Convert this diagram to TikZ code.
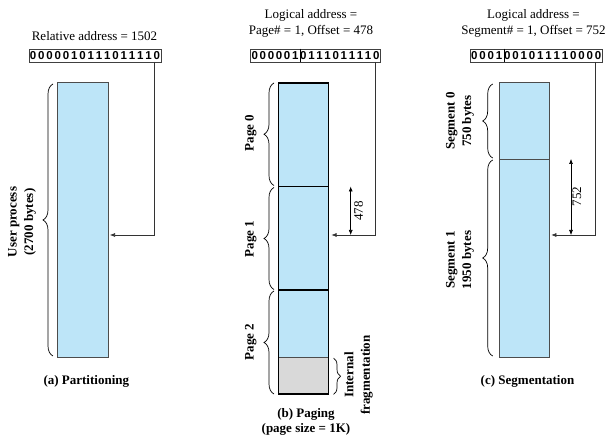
\documentclass[tikz,border=0pt]{standalone}
\usepackage{fontspec}
\setmainfont{Liberation Serif}
\newfontfamily\bitfont{Liberation Sans}
\usetikzlibrary{arrows.meta,decorations.pathreplacing}
\definecolor{membl}{RGB}{189,229,248}
\definecolor{fraggr}{RGB}{217,217,217}

\begin{document}
\begin{tikzpicture}[x=1pt,y=-1pt,
    font=\fontsize{13}{16}\selectfont,
    bit/.style={font=\fontsize{11.5}{11.5}\bitfont\bfseries, inner sep=0pt},
    addr/.style={draw=black!75, line width=0.6pt, minimum height=13pt, inner sep=0pt},
    mem/.style={draw=black!70, line width=0.6pt, fill=membl, anchor=north west, inner sep=0pt, outer sep=0pt},
    page/.style={mem, draw=black, line width=1.9pt, minimum width=50pt, minimum height=103.7pt},
    brc/.style={decorate, decoration={brace, amplitude=10pt}, line width=0.7pt},
    smallbrc/.style={decorate, decoration={brace, amplitude=7pt}, line width=0.7pt},
    ptr/.style={-{Latex[length=5pt,width=4pt]}, line width=0.6pt, draw=black!80},
    dim/.style={{Latex[length=5pt,width=4pt]}-{Latex[length=5pt,width=4pt]}, line width=0.6pt},
    side/.style={align=center, rotate=90, font=\fontsize{13}{16.5}\selectfont\bfseries},
    caption/.style={align=center, font=\fontsize{13}{14.5}\selectfont\bfseries},
]
\useasboundingbox (0,0) rectangle (611,438);

%% (a) Partitioning
\node (titleA) at (94.5,36) {Relative address = 1502};
\node [addr, minimum width=132pt] (addrA) at (95,55.5) {};
\foreach \Bit [count=\i] in {0,0,0,0,0,1,0,1,1,1,0,1,1,1,1,0}{
    \node [bit] (bitA\i) at (29+8.25*\i-4.125,55.5) {\Bit};
}
\node [mem, minimum width=51pt, minimum height=274.6pt] (procA) at (57.3,82.7) {};
\draw [brc] (53,356) -- (53,84); % process brace
\node [side] (sizeA) at (22,222) {User process\\(2700 bytes)};
\coordinate (tapA) at (154,62);
\coordinate (hitA) at (110,235);
\draw [ptr] (tapA) |- (hitA);
\node [caption] (capA) at (86.3,381) {(a) Partitioning};

%% (b) Paging
\node [align=center] (titleB) at (311,23) {Logical address =\\Page\# = 1, Offset = 478};
\node [addr, minimum width=129.6pt] (addrB) at (315.5,55.5) {};
\foreach \Bit [count=\i] in {0,0,0,0,0,1,0,1,1,1,0,1,1,1,1,0}{
    \node [bit] (bitB\i) at (250.7+8.1*\i-4.05,55.5) {\Bit};
}
\draw [line width=0.6pt] ([xshift=49.6pt]addrB.north west) -- ([xshift=49.6pt]addrB.south west); % page | offset
\node [page] (page0) at (278.5,82.8) {};
\node [page] (page1) at (page0.south west) {};
\node [page] (page2) at (page1.south west) {};
\node [mem, anchor=south west, fill=fraggr, minimum width=50pt, minimum height=36.2pt] (frag) at (page2.south west) {};
\draw [line width=1.9pt] (page2.north west) rectangle (page2.south east); % redraw frame
\draw [brc] (274,185.5) -- (274,83);
\draw [brc] (274,289.5) -- (274,187.5);
\draw [brc] (274,394) -- (274,291);
\node [side] (lblP0) at (250.7,133) {Page 0};
\node [side] (lblP1) at (250.7,239) {Page 1};
\node [side] (lblP2) at (250.7,342) {Page 2};
\draw [smallbrc] (333.5,358) -- (333.5,394.5); % fragmentation brace
\node [side] (lblFrag) at (358.5,375) {Internal\\fragmentation};
\coordinate (tapB) at (375,62);
\coordinate (hitB) at (331.5,235);
\draw [ptr] (tapB) |- (hitB);
\coordinate (offBtop) at (350.7,186.5);
\coordinate (offBbot) at (350.7,235);
\draw [dim] (offBtop) -- (offBbot);
\node [rotate=90] (offB) at (358.5,211) {478};
\node [caption] (capB) at (306,422) {(b) Paging\\(page size = 1K)};

%% (c) Segmentation
\node [align=center] (titleC) at (533.5,23) {Logical address =\\Segment\# = 1, Offset = 752};
\node [addr, minimum width=132pt] (addrC) at (536.3,55.5) {};
\foreach \Bit [count=\i] in {0,0,0,1,0,0,1,0,1,1,1,1,0,0,0,0}{
    \node [bit] (bitC\i) at (470.3+8.25*\i-4.125,55.5) {\Bit};
}
\draw [line width=0.6pt] ([xshift=34pt]addrC.north west) -- ([xshift=34pt]addrC.south west); % segment | offset
\node [mem, minimum width=50.3pt, minimum height=76.3pt] (seg0) at (499,82.7) {};
\node [mem, minimum width=50.3pt, minimum height=198.3pt] (seg1) at (seg0.south west) {};
\draw [brc] (492.7,158) -- (492.7,84);
\draw [brc] (492.7,356) -- (492.7,160);
\node [side] (lblS0) at (460,121) {Segment 0\\750 bytes};
\node [side] (lblS1) at (460,260) {Segment 1\\1950 bytes};
\coordinate (tapC) at (595,62);
\coordinate (hitC) at (551.3,235);
\draw [ptr] (tapC) |- (hitC);
\coordinate (offCtop) at (571,159);
\coordinate (offCbot) at (571,235);
\draw [dim] (offCtop) -- (offCbot);
\node [rotate=90] (offC) at (577,196.5) {752};
\node [caption] (capC) at (527.5,381) {(c) Segmentation};

\end{tikzpicture}
\end{document}
